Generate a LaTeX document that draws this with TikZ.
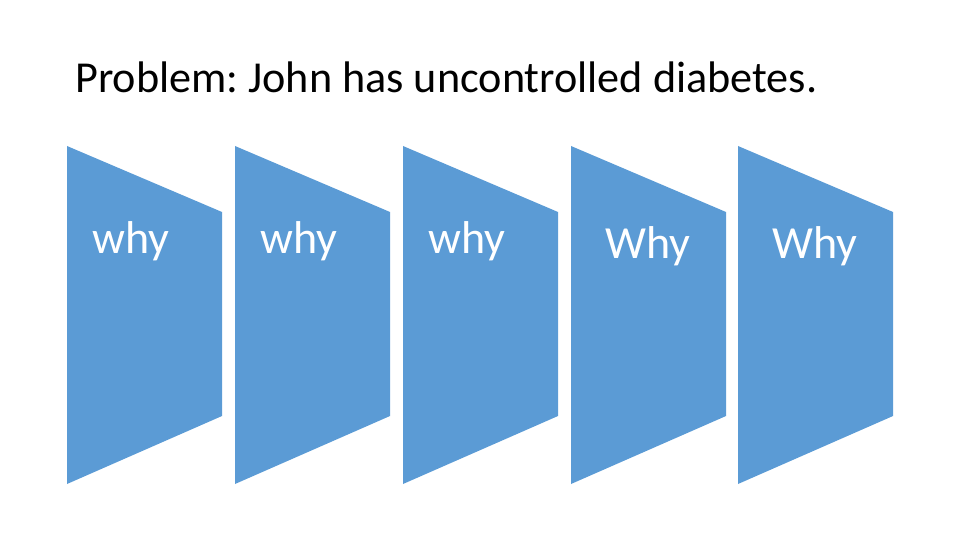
\documentclass[tikz,border=0pt]{standalone}
\usepackage{fontspec}
\setmainfont{Carlito}
\definecolor{stepblue}{HTML}{5B9BD5}
\begin{document}
\frenchspacing
\begin{tikzpicture}[x=1pt,y=-1pt,
  stage/.style={fill=stepblue,draw=none},
  lbl/.style={text=white,anchor=base west,inner sep=0pt,font=\fontsize{46}{50}\selectfont},
  title/.style={anchor=base west,inner sep=0pt,font=\fontsize{44.2}{50}\selectfont}]
\useasboundingbox (0,0) rectangle (960,540);
\node[title] (t) at (75,93) {Problem: John has uncontrolled diabetes.};
\foreach \x/\i in {67/1,235/2,403/3,571/4,738/5}{
  \fill[stage] (\x,146) coordinate (s\i) -- (\x+155,212) -- (\x+155,416) -- (\x,484) -- cycle;
}
\node[lbl] (w1) at (92,253) {why};
\node[lbl] (w2) at (260,253) {why};
\node[lbl] (w3) at (428,253) {why};
\node[lbl] (w4) at (605,258) {Why};
\node[lbl] (w5) at (772,258) {Why};
\end{tikzpicture}
\end{document}
